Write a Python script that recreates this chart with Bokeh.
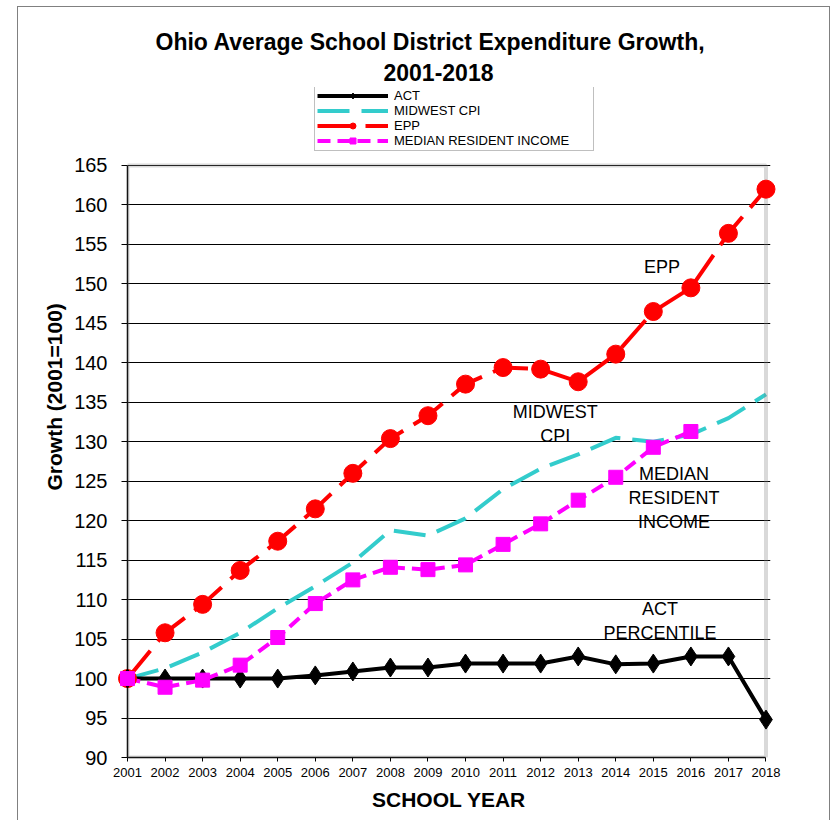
from bokeh.plotting import figure
from bokeh.models import (Range1d, FixedTicker, Legend, LegendItem, Title, BoxAnnotation)
from bokeh.core.properties import value
from bokeh.embed import file_html
from bokeh.resources import INLINE

# ---------------- data ----------------
years = [2001, 2002, 2003, 2004, 2005, 2006, 2007, 2008, 2009,
         2010, 2011, 2012, 2013, 2014, 2015, 2016, 2017, 2018]
act = [100.0, 100.0, 100.0, 100.0, 100.0, 100.4, 100.9, 101.4, 101.4,
       101.9, 101.9, 101.9, 102.8, 101.8, 101.9, 102.8, 102.8, 94.8]
midwest_cpi = [100.0, 101.3, 103.3, 105.8, 108.9, 111.7, 114.7, 118.8, 118.1,
               120.3, 124.0, 126.6, 128.4, 130.5, 130.0, 130.9, 133.0, 136.0]
epp = [100.0, 105.8, 109.4, 113.7, 117.4, 121.5, 126.0, 130.4, 133.3,
       137.3, 139.4, 139.2, 137.6, 141.1, 146.5, 149.5, 156.4, 162.0]
income_years = [2001, 2002, 2003, 2004, 2005, 2006, 2007, 2008,
                2009, 2010, 2011, 2012, 2013, 2014, 2015, 2016]
median_income = [100.0, 98.9, 99.8, 101.7, 105.2, 109.5, 112.5, 114.1,
                 113.8, 114.4, 117.0, 119.6, 122.6, 125.5, 129.3, 131.3]
y_ticks = [90, 95, 100, 105, 110, 115, 120, 125, 130, 135, 140, 145, 150, 155, 160, 165]

series_labels = ["ACT", "MIDWEST CPI", "EPP", "MEDIAN RESIDENT INCOME"]
note_text = ["EPP", "MIDWEST\nCPI", "MEDIAN\nRESIDENT\nINCOME", "ACT\nPERCENTILE"]
note_x = [2015.23, 2012.39, 2015.55, 2015.18]
note_y = [152.1, 132.2, 122.9, 107.35]

X_MIN, X_MAX = years[0], years[-1]
Y_MIN, Y_MAX = y_ticks[0], y_ticks[-1]

FONT = "Liberation Sans"
GREY = "#808080"

# the frame extends a little above the 165 line so that the legend sits in it
p = figure(width=830, height=820,
           x_range=Range1d(X_MIN, X_MAX + 0.12), y_range=Range1d(Y_MIN, Y_MAX + 9.88),
           output_backend="svg", toolbar_location=None, title=None,
           min_border_left=127, min_border_right=60, min_border_top=87, min_border_bottom=63,
           background_fill_color="white", border_fill_color="white", border_fill_alpha=0)

# thin grey outer chart border (left, top, right), drawn behind the transparent canvas border
p.styles = {
    "background-color": "white",
    "background-image": ("linear-gradient(#808080, #808080), linear-gradient(#808080, #808080), "
                         "linear-gradient(#808080, #808080)"),
    "background-size": "1px 820px, 812px 1px, 1px 820px",
    "background-position": "17px 6px, 17px 6px, 829px 6px",
    "background-repeat": "no-repeat",
}

p.outline_line_color = None

# plot-area border (grey, Excel style)
p.add_layout(BoxAnnotation(left=X_MIN, right=X_MAX, bottom=Y_MIN, top=Y_MAX,
                           fill_alpha=0, line_color=GREY, line_width=4))

# axes
p.xaxis.bounds = (X_MIN, X_MAX)
p.xaxis.ticker = FixedTicker(ticks=years)
p.xaxis.major_label_text_font = FONT
p.xaxis.major_label_text_font_size = "13px"
p.xaxis.major_label_text_color = "black"
p.xaxis.major_tick_out = 4
p.xaxis.major_tick_in = 0
p.xaxis.minor_tick_out = 0
p.xaxis.minor_tick_in = 0
p.xaxis.major_label_standoff = 6
p.xaxis.axis_line_color = "black"
p.xaxis.axis_line_width = 1.5
p.xaxis.major_tick_line_color = "black"
p.xaxis.axis_label = "SCHOOL YEAR"
p.xaxis.axis_label_text_font = FONT
p.xaxis.axis_label_text_font_size = "21px"
p.xaxis.axis_label_text_font_style = "bold"
p.xaxis.axis_label_text_color = "black"
p.xaxis.axis_label_standoff = 8

p.yaxis.bounds = (Y_MIN, Y_MAX)
p.yaxis.ticker = FixedTicker(ticks=y_ticks)
p.yaxis.major_label_text_font = FONT
p.yaxis.major_label_text_font_size = "20px"
p.yaxis.major_label_text_color = "black"
p.yaxis.major_tick_out = 6
p.yaxis.major_tick_in = 0
p.yaxis.minor_tick_out = 0
p.yaxis.minor_tick_in = 0
p.yaxis.major_label_standoff = 14
p.yaxis.axis_line_color = "black"
p.yaxis.axis_line_width = 1.5
p.yaxis.major_tick_line_color = "black"

p.xgrid.visible = False
p.ygrid.ticker = FixedTicker(ticks=y_ticks)
p.ygrid.grid_line_color = "black"
p.ygrid.grid_line_width = 1

# series
epp_line = p.line(years, epp, line_color="#FF0000", line_width=4, line_dash="36 12")
epp_pts = p.scatter(years, epp, marker="circle", size=18, fill_color="#FF0000",
                    line_color="#FF0000", level="overlay")
cpi_line = p.line(years, midwest_cpi, line_color="#33CCCC", line_width=4, line_dash="32 12")
act_line = p.line(years, act, line_color="black", line_width=4)
act_pts = p.scatter(years, act, marker="diamond", size=19, fill_color="black",
                    line_color="black", level="overlay")
inc_line = p.line(income_years, median_income, line_color="#FF00FF", line_width=4, line_dash="13 7")
inc_pts = p.scatter(income_years, median_income, marker="square", size=14, fill_color="#FF00FF",
                    line_color="#FF00FF", level="overlay")

p.text(note_x, note_y, text=note_text, text_font=value(FONT), text_font_size="18px",
       text_align="center", text_baseline="middle", text_line_height=1.2, text_color="black")

legend = Legend(items=[
    LegendItem(label=series_labels[0], renderers=[act_line, act_pts]),
    LegendItem(label=series_labels[1], renderers=[cpi_line]),
    LegendItem(label=series_labels[2], renderers=[epp_line, epp_pts]),
    LegendItem(label=series_labels[3], renderers=[inc_line, inc_pts]),
], location=(187, 606), orientation="vertical", padding=2, spacing=0, margin=0,
    label_text_font=FONT, label_text_font_size="13px", label_text_color="black",
    label_height=15, glyph_height=15,
    glyph_width=71, label_standoff=6, label_width=197,
    border_line_color=GREY, border_line_width=1, background_fill_color="white",
    background_fill_alpha=1)
p.add_layout(legend)

p.add_layout(Title(text="2001-2018", align="left", offset=256, standoff=14,
                   text_font=FONT, text_font_size="23px", text_font_style="bold",
                   text_color="black"), "above")
p.add_layout(Title(text="Ohio Average School District Expenditure Growth,", align="left",
                   offset=28, standoff=0, text_font=FONT, text_font_size="23px",
                   text_font_style="bold", text_color="black"), "above")

p.add_layout(Title(text="Growth (2001=100)", align="left", offset=267, standoff=12,
                   text_font=FONT, text_font_size="21px", text_font_style="bold",
                   text_color="black"), "left")

open("out.html", "w").write(file_html(p, INLINE))
